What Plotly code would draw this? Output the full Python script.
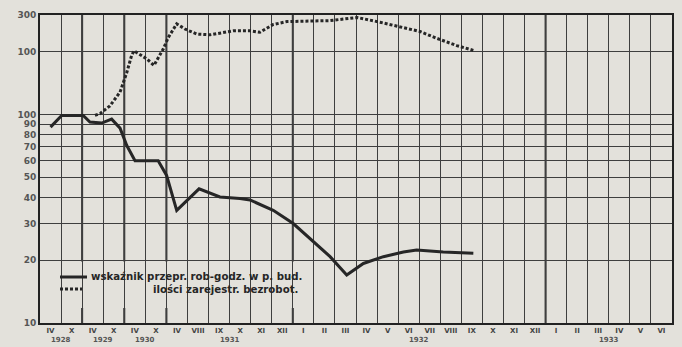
import math
import plotly.graph_objects as go

# ---------------- data ----------------
month_labels = ["IV", "X", "IV", "X", "IV", "X",
                "IV", "VIII", "IX", "X", "XI", "XII",
                "I", "II", "III", "IV", "V", "VI", "VII", "VIII", "IX", "X", "XI", "XII",
                "I", "II", "III", "IV", "V", "VI"]
years = ["1928", "1929", "1930", "1931", "1932", "1933"]
year_cells = [2, 2, 2, 6, 12, 6]

# index of hours worked in building (position on the column scale, value)
hours_x = [0.0, 0.53, 1.55, 1.87, 2.43, 2.90, 3.30, 3.62, 4.01, 5.11, 5.51, 5.99,
           7.05, 8.04, 8.99, 9.47, 10.57, 11.52, 13.27, 14.06, 14.85, 15.80,
           16.75, 17.38, 18.64, 20.07]
hours_y = [87, 99, 99, 92, 91, 95, 86, 71, 60, 60, 51, 34.7,
           44, 40.2, 39.5, 38.9, 34.7, 30, 20.8, 17.0, 19.3, 20.8,
           21.9, 22.4, 21.9, 21.6]

# registered unemployed
unemp_x = [2.11, 2.35, 2.82, 3.30, 3.62, 3.85, 3.96, 4.56, 4.91, 5.35, 5.59, 5.99,
           6.38, 6.94, 7.57, 8.68, 9.47, 9.94, 10.57, 11.22, 13.27, 14.55, 15.64,
           16.75, 17.54, 18.33, 19.28, 20.07]
unemp_y = [99, 101, 110, 128, 159, 192, 202, 185, 172, 206, 234, 272,
           257, 243, 241, 252, 252, 248, 270, 279, 282, 292, 277,
           262, 250, 232, 214, 203]

y_ticks = [10, 20, 30, 40, 50, 60, 70, 80, 90, 100, 200, 300]
y_tick_text = ["10", "20", "30", "40", "50", "60", "70", "80", "90", "100", "100", "300"]

series_names = ["wskaźnik przepr. rob-godz. w p. bud.", "ilości zarejestr. bezrobot."]

# ---------------- styling ----------------
BG = "#e3e1db"
INK = "#262626"
GRID = "#3e3e3e"
W, H = 682, 347
ML, MR, MT, MB = 40, 10, 15, 24
PW, PH = W - ML - MR, H - MT - MB

n = len(month_labels)
ymin, ymax = 10, 300
lo, hi = math.log10(ymin), math.log10(ymax)


def py(v):
    return (math.log10(v) - lo) / (hi - lo)


def px_x(p):
    return (p - ML) / PW


def px_y(p):
    return (H - MB - p) / PH


fig = go.Figure()
fig.add_trace(go.Scatter(x=hours_x, y=hours_y, mode="lines", name=series_names[0],
                         line=dict(color=INK, width=3), showlegend=False))
fig.add_trace(go.Scatter(x=unemp_x, y=unemp_y, mode="lines", name=series_names[1],
                         line=dict(color=INK, width=3, dash="3px,2px"), showlegend=False))

shapes = []
# thick year separators
b = -0.5
for c in year_cells[:-1]:
    b += c
    shapes.append(dict(type="line", xref="x", yref="paper", x0=b, x1=b, y0=0, y1=1,
                       line=dict(color="#2e2e2e", width=2), layer="between"))
# blank legend panel (grid interrupted)
shapes.append(dict(type="rect", xref="x", yref="paper", x0=-0.45, x1=12.0,
                   y0=px_y(308), y1=py(20) - 0.004,
                   fillcolor=BG, line=dict(width=0), layer="between"))
# legend samples
shapes.append(dict(type="line", xref="paper", yref="paper", x0=px_x(60), x1=px_x(87),
                   y0=px_y(277), y1=px_y(277), line=dict(color=INK, width=3)))
shapes.append(dict(type="line", xref="paper", yref="paper", x0=px_x(60), x1=px_x(82),
                   y0=px_y(289), y1=px_y(289), line=dict(color=INK, width=3, dash="3px,2px")))

legend_font = dict(family="DejaVu Sans", size=10.2, color=INK, weight="bold")
annotations = [
    dict(text=series_names[0], xref="paper", yref="paper", x=px_x(89), y=px_y(276.5),
         xanchor="left", yanchor="middle", showarrow=False, font=legend_font),
    dict(text=series_names[1], xref="paper", yref="paper", x=px_x(300), y=px_y(289.5),
         xanchor="right", yanchor="middle", showarrow=False, font=legend_font),
]
# year labels centered under their column spans
start = -0.5
for yr, c in zip(years, year_cells):
    annotations.append(dict(text=yr, xref="x", yref="paper", x=start + c / 2, y=px_y(340),
                            xanchor="center", yanchor="middle", showarrow=False,
                            font=dict(family="DejaVu Sans", size=7, color="#555555", weight="bold")))
    start += c

fig.update_layout(
    width=W, height=H,
    margin=dict(l=ML, r=MR, t=MT, b=MB, pad=0),
    paper_bgcolor=BG, plot_bgcolor=BG,
    shapes=shapes, annotations=annotations,
    xaxis=dict(range=[-0.5, n - 0.5], tickmode="array", tickvals=list(range(n)),
               ticktext=month_labels, showgrid=False, zeroline=False, automargin=False,
               ticks="", tickfont=dict(family="DejaVu Sans", size=7, color="#444444", weight="bold"),
               minor=dict(tickmode="array", tickvals=[i - 0.5 for i in range(n + 1)],
                          showgrid=True, gridcolor=GRID, gridwidth=1, ticks=""),
               showline=True, mirror=True, linecolor="#222222", linewidth=2, fixedrange=True),
    yaxis=dict(type="log", range=[lo, hi], tickmode="array", tickvals=y_ticks,
               ticktext=y_tick_text, showgrid=True, gridcolor=GRID, gridwidth=1,
               zeroline=False, ticks="", automargin=False,
               tickfont=dict(family="DejaVu Sans", size=9, color="#555555", weight="bold"),
               showline=True, mirror=True, linecolor="#222222", linewidth=2, fixedrange=True),
    showlegend=False,
)

fig.write_html("out.html", config={"displayModeBar": False},
               post_script="document.body.style.margin='0';document.body.style.padding='0';"
                           "document.documentElement.style.background='" + BG + "';")
